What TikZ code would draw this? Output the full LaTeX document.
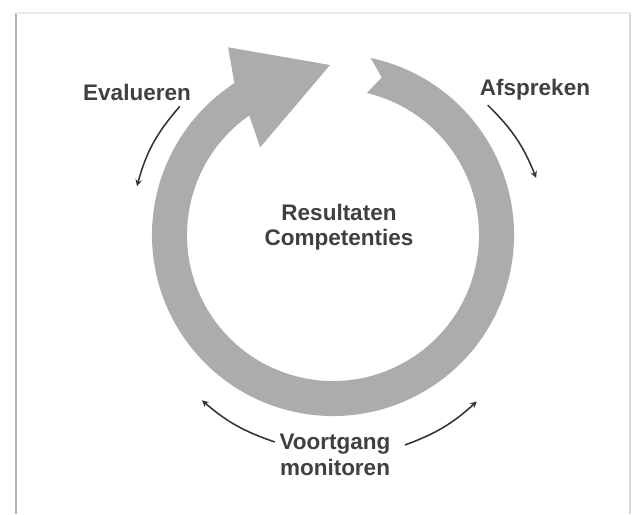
\documentclass[tikz,border=0pt]{standalone}
\usepackage{fontspec}
\setmainfont{Liberation Sans}
\usepackage{tikz}
\usetikzlibrary{arrows}
\definecolor{ringgray}{RGB}{172,172,172}
\tikzstyle{lbl} = [text=black!75, font=\fontsize{16}{18}\selectfont\bfseries, align=center]
\tikzstyle{arrow} = [line width=1.1pt,->,>=stealth,black!80]

\begin{document}
\begin{tikzpicture}[x=0.025cm, y=0.025cm]
        \useasboundingbox (0,0) rectangle (638,514);
        % frame
        \draw [black!30, line width=1.5pt] (16,0) -- (16,501);
        \draw [black!8, line width=1pt] (16,501) -- (630,501);
        \draw [black!15, line width=1.5pt] (630,501) -- (630,0);
        % ring with arrow head
        \begin{scope}[shift={(333,279)}]
            \fill [ringgray] (78:181) arc (78:-237:181) -- (119.2:215) -- (91:170)
                -- (129.7:114) -- (125:146) arc (-235:76.6:146) -- (72.8:165) -- cycle;
            \coordinate (ev-s) at (140:200);
            \coordinate (ev-e) at (166:202);
            \coordinate (af-s) at (40:202);
            \coordinate (af-e) at (15.7:211);
            \coordinate (vl-s) at (254.3:215);
            \coordinate (vl-e) at (231.6:211);
            \coordinate (vr-s) at (-71.1:222);
            \coordinate (vr-e) at (-49.2:220);
        \end{scope}
        \node (eval) [lbl] at (137,422) {Evalueren};
        \node (afspr) [lbl] at (535,424) {Afspreken};
        \node (result) [lbl] at (339,287) {Resultaten\\Competenties};
        \node (monitor) [lbl] at (335,59) {Voortgang\\monitoren};
        \draw [arrow] (ev-s) to [bend right=13] (ev-e);
        \draw [arrow] (af-s) to [bend left=12] (af-e);
        \draw [arrow] (vl-s) to [bend left=11] (vl-e);
        \draw [arrow] (vr-s) to [bend right=11] (vr-e);
    \end{tikzpicture}
\end{document}
